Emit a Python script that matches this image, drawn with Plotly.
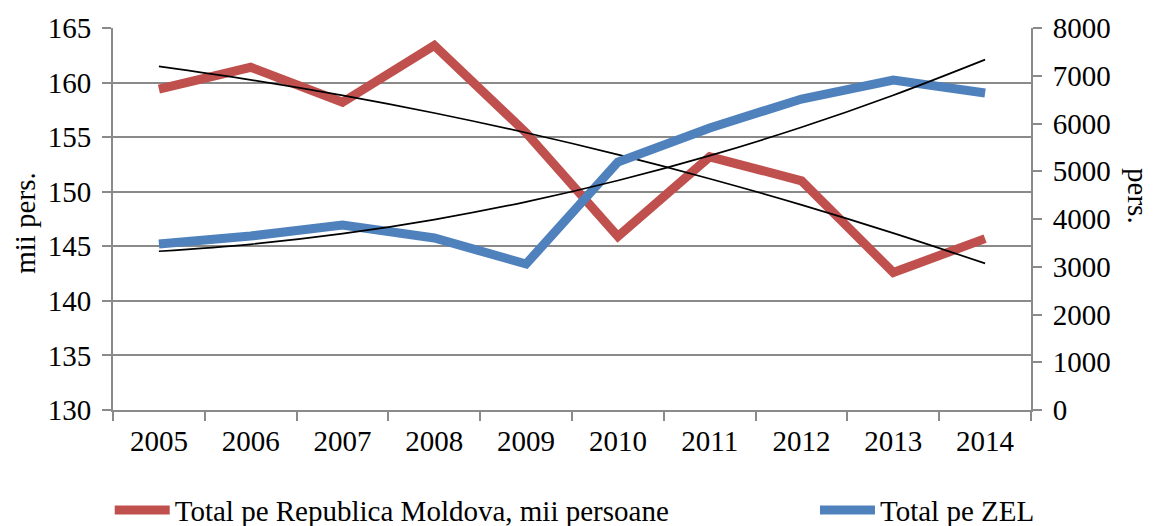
import numpy as np
import plotly.graph_objects as go

years = ["2005", "2006", "2007", "2008", "2009", "2010", "2011", "2012", "2013", "2014"]
moldova_total = [159.4, 161.4, 158.2, 163.4, 155.4, 145.9, 153.2, 151.0, 142.6, 145.7]  # mii persoane
zel_total = [3476, 3644, 3874, 3602, 3058, 5194, 5906, 6513, 6911, 6639]  # persoane

name_moldova = "Total pe Republica Moldova, mii persoane"
name_zel = "Total pe ZEL"

RED = "#C0504D"
BLUE = "#4F81BD"
GRID = "#8A8A8A"
FONT = "Liberation Serif, Tinos, Times New Roman, DejaVu Serif, serif"
FS = 29

# second-order polynomial trend lines fitted to each series
idx = np.arange(len(years))
trend_moldova = np.polyval(np.polyfit(idx, moldova_total, 2), idx)
trend_zel = np.polyval(np.polyfit(idx, zel_total, 2), idx)

fig = go.Figure()
fig.add_trace(go.Scatter(x=years, y=moldova_total, name=name_moldova, mode="lines",
                         line=dict(color=RED, width=9), yaxis="y", legend="legend"))
fig.add_trace(go.Scatter(x=years, y=zel_total, name=name_zel, mode="lines",
                         line=dict(color=BLUE, width=9), yaxis="y2", legend="legend2"))
fig.add_trace(go.Scatter(x=years, y=trend_moldova, mode="lines", showlegend=False,
                         line=dict(color="black", width=1.7, shape="spline"), yaxis="y"))
fig.add_trace(go.Scatter(x=years, y=trend_zel, mode="lines", showlegend=False,
                         line=dict(color="black", width=1.7, shape="spline"), yaxis="y2"))

legend_style = dict(orientation="h", xref="container", yref="container",
                    xanchor="left", y=0.03, yanchor="middle", itemwidth=55,
                    font=dict(family=FONT, size=FS), bgcolor="rgba(0,0,0,0)")

axis_common = dict(showline=True, linecolor=GRID, linewidth=1.7, ticks="outside",
                   ticklen=9, tickcolor=GRID, tickwidth=1.7, zeroline=False,
                   tickfont=dict(family=FONT, size=FS))

fig.update_layout(
    width=1155, height=526,
    margin=dict(l=113, r=124, t=28, b=116, autoexpand=False),
    paper_bgcolor="white", plot_bgcolor="white",
    font=dict(family=FONT, size=FS, color="black"),
    showlegend=True,
    legend=dict(x=0.095, **legend_style),
    legend2=dict(x=0.7056, **legend_style),
    xaxis=dict(type="category", range=[-0.5, 9.5], showgrid=False, tickson="boundaries",
               ticklabelstandoff=4, **axis_common),
    yaxis=dict(range=[130, 165], dtick=5, tick0=130, showgrid=True, gridcolor=GRID,
               gridwidth=1.7, ticklabelstandoff=5, **axis_common),
    yaxis2=dict(range=[0, 8000], dtick=1000, tick0=0, overlaying="y", side="right",
                showgrid=False, ticklabelstandoff=5, **axis_common),
    annotations=[
        dict(text="mii pers.", xref="paper", yref="paper", x=0, y=0.49, xshift=-88,
             showarrow=False, textangle=-90, font=dict(family=FONT, size=FS),
             xanchor="center", yanchor="middle"),
        dict(text="pers.", xref="paper", yref="paper", x=1, y=0.56, xshift=107,
             showarrow=False, textangle=90, font=dict(family=FONT, size=FS),
             xanchor="center", yanchor="middle"),
    ],
)

fig.write_html("out.html")
